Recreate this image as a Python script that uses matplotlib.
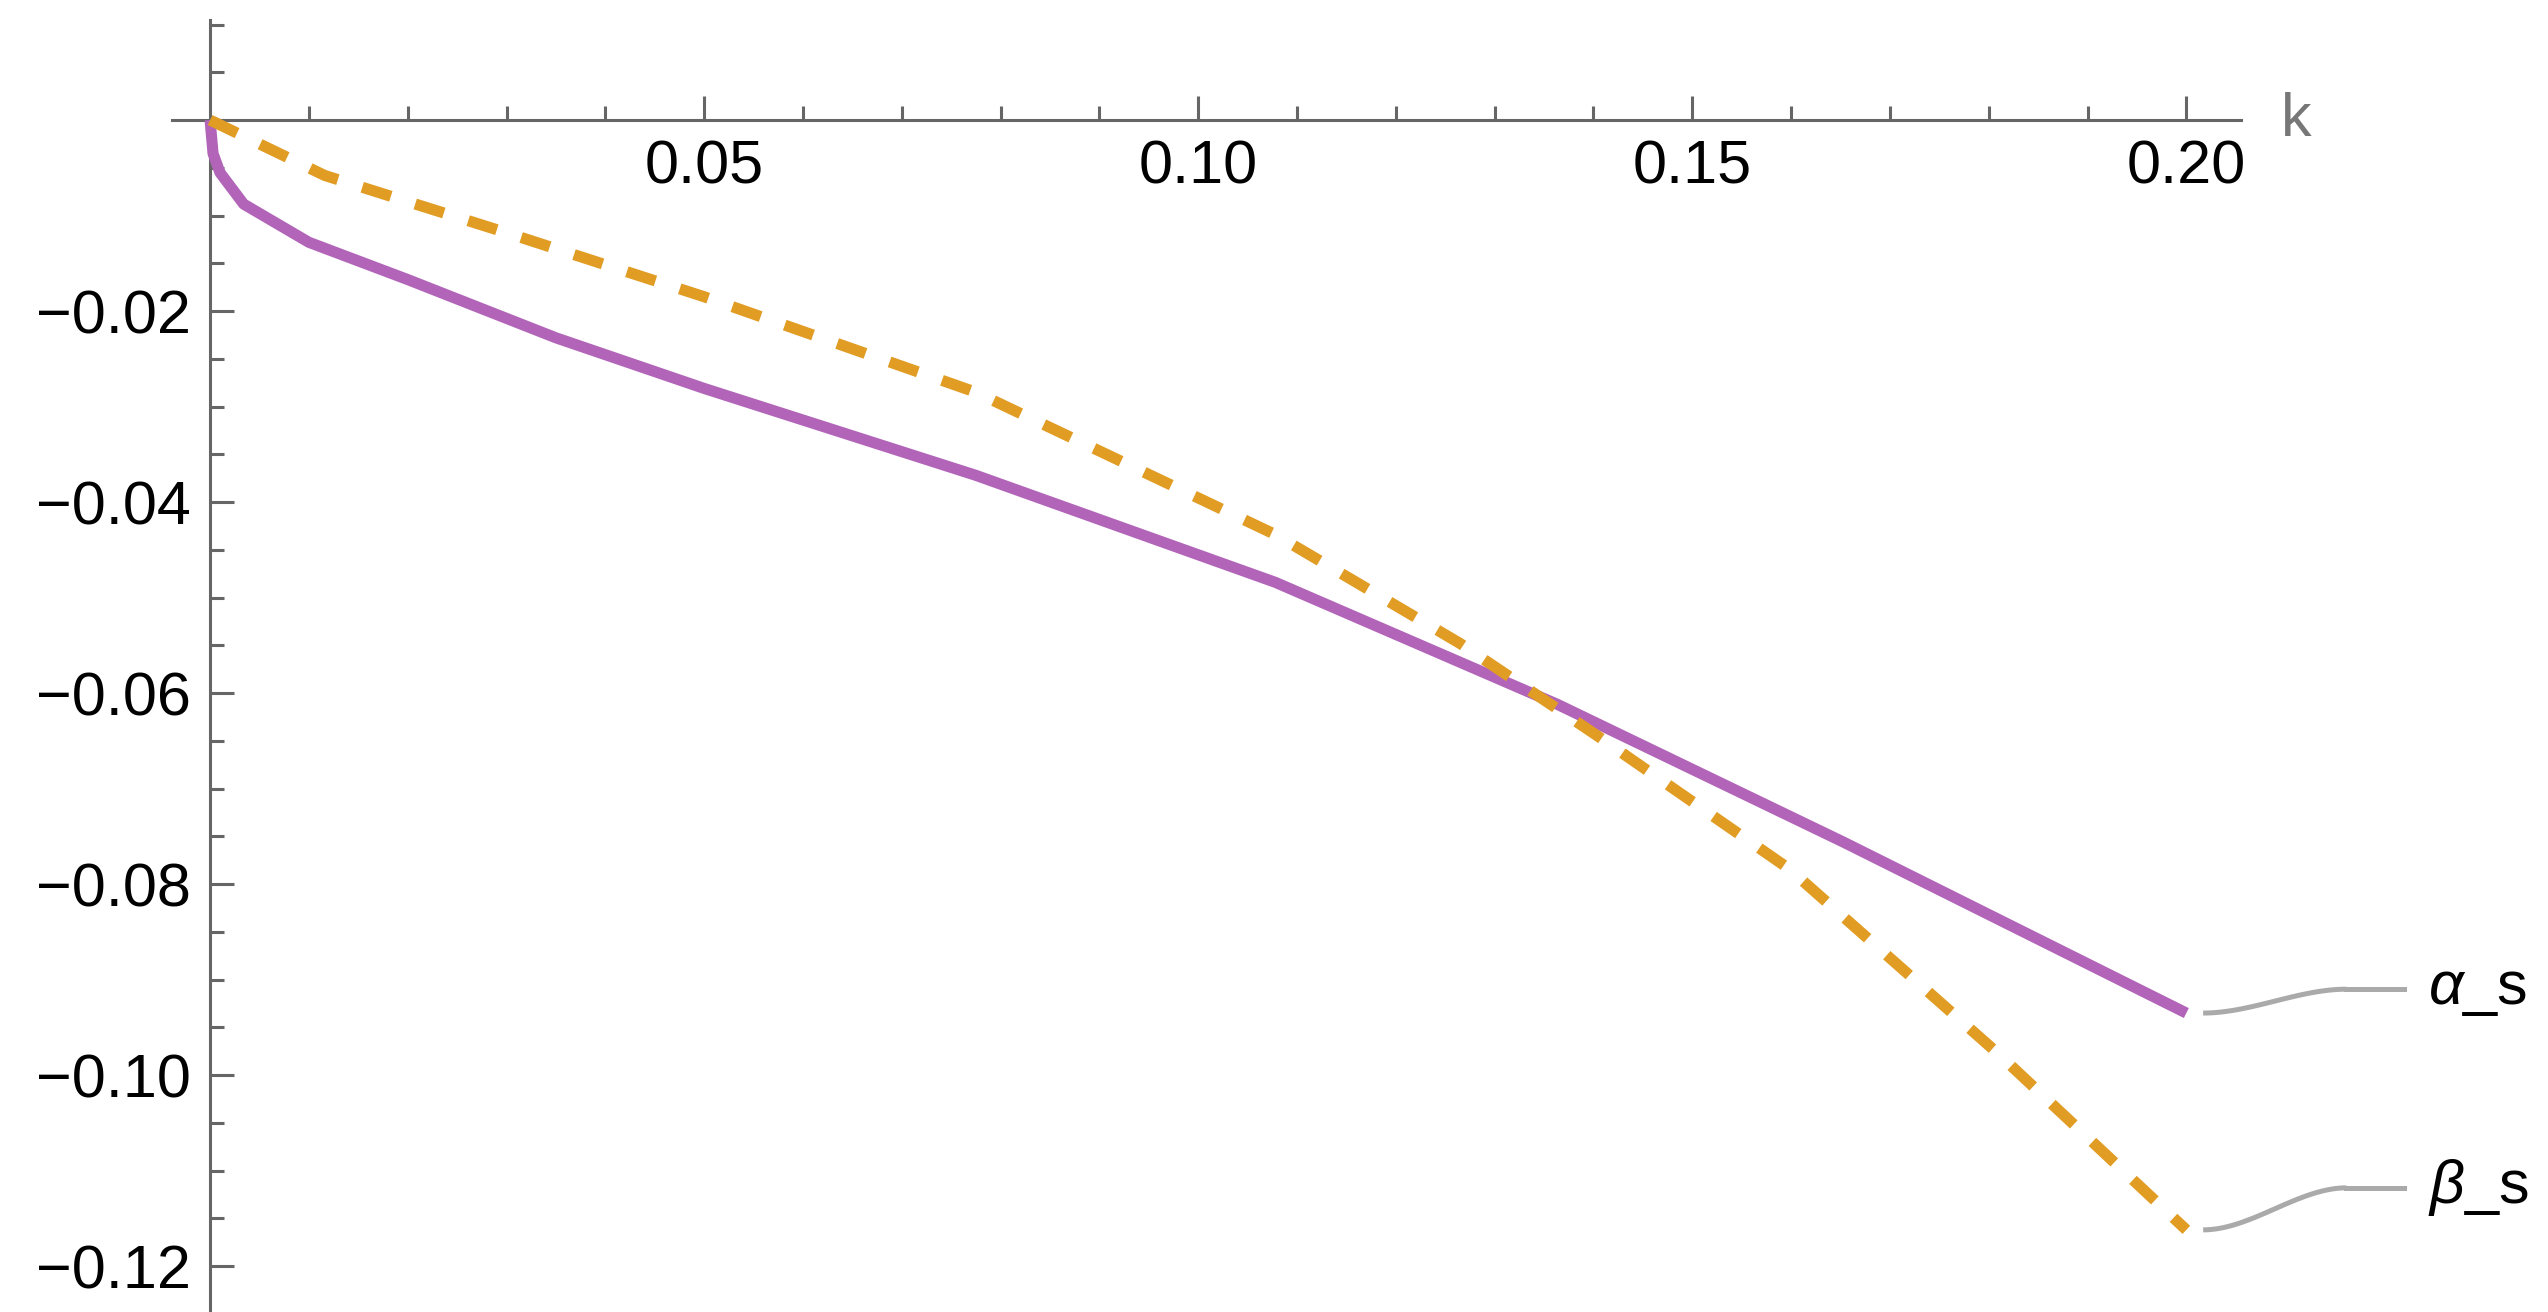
import numpy as np
import matplotlib; matplotlib.use("Agg")
import matplotlib.pyplot as plt
from matplotlib.ticker import MultipleLocator, FixedLocator

plt.rcParams["font.family"] = ["Liberation Sans", "DejaVu Sans"]
plt.rcParams["mathtext.fontset"] = "custom"
plt.rcParams["mathtext.it"] = "Liberation Sans:italic"

# values
k_alpha = [0.0, 0.0003, 0.001, 0.0034, 0.01, 0.02, 0.035, 0.05, 0.0775, 0.1078,
           0.1364, 0.1653, 0.2]
alpha_s = [0.0, -0.0035, -0.0055, -0.0088, -0.0128, -0.0167, -0.0228, -0.0281,
           -0.0372, -0.0484, -0.0612, -0.0756, -0.0935]
k_beta = [0.0, 0.0116, 0.03, 0.05, 0.0775, 0.1078, 0.1265, 0.1403, 0.1598,
          0.1809, 0.2]
beta_s = [0.0, -0.0058, -0.0118, -0.0185, -0.0285, -0.0434, -0.0548, -0.0644,
          -0.0784, -0.0977, -0.1162]

PURPLE, ORANGE, AXC, GREY = "#b265b8", "#e19c24", "#666666", "#aaaaaa"

fig = plt.figure(figsize=(25.48, 13.12), dpi=100)
ax = fig.add_axes([0, 0, 1, 1])
ax.set_xlim(-0.02126, 0.2366)
ax.set_ylim(-0.1248, 0.01257)

ax.plot(k_alpha, alpha_s, color=PURPLE, lw=8, solid_capstyle="butt", zorder=3)
ax.plot(k_beta, beta_s, color=ORANGE, lw=8, ls=(0, (2.7, 2.3)),
        dash_capstyle="butt", zorder=3)

# label connectors (Mathematica-style callouts)
def callout(x0, y0, y1, text):
    t = np.linspace(0, 1, 40)
    s = 3 * t**2 - 2 * t**3
    xs = 0.2017 + 0.0145 * t
    ax.plot(xs, y0 + (y1 - y0) * s, color=GREY, lw=3.6, solid_capstyle="butt")
    ax.plot([0.2162, 0.2220], [y1, y1], color=GREY, lw=3.6)
    ax.text(0.2245, y1, text, fontsize=44, va="center", ha="left")

callout(0.2017, alpha_s[-1], -0.0910, r"$\alpha$_s")
callout(0.2017, beta_s[-1], -0.1118, r"$\beta$_s")

for s in ["top", "right"]:
    ax.spines[s].set_visible(False)
ax.spines["left"].set_position(("data", 0))
ax.spines["bottom"].set_position(("data", 0))
ax.spines["left"].set_bounds(-0.1248, 0.0105)
ax.spines["bottom"].set_bounds(-0.0039, 0.2055)
for s in ["left", "bottom"]:
    ax.spines[s].set_color(AXC)
    ax.spines[s].set_linewidth(2.2)

ax.xaxis.set_major_locator(FixedLocator([0.05, 0.10, 0.15, 0.20]))
ax.xaxis.set_minor_locator(FixedLocator(np.arange(0.01, 0.201, 0.01)))
ax.yaxis.set_major_locator(FixedLocator([-0.02, -0.04, -0.06, -0.08, -0.10, -0.12]))
ax.yaxis.set_minor_locator(FixedLocator(np.arange(-0.12, 0.0101, 0.005)))
ax.set_xticklabels(["0.05", "0.10", "0.15", "0.20"])
ax.set_yticklabels(["\u22120.02", "\u22120.04", "\u22120.06", "\u22120.08",
                    "\u22120.10", "\u22120.12"])
ax.tick_params(which="both", direction="in", color=AXC, width=2.2,
               labelsize=44, labelcolor="black")
ax.tick_params(which="major", length=17)
ax.tick_params(which="minor", length=10)
ax.tick_params(axis="x", pad=14)
ax.tick_params(axis="y", pad=14)

ax.text(0.2096, 0.0, "k", color="#777777", fontsize=44, va="center", ha="left")

fig.savefig("out.png", dpi=100)
